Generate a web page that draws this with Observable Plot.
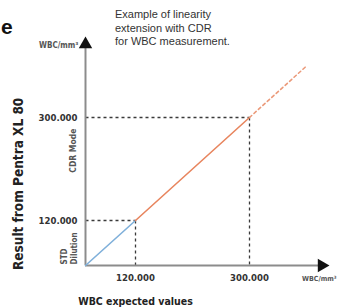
<!DOCTYPE html>
<html>
<head>
<meta charset="utf-8">
<script src="https://cdn.jsdelivr.net/npm/d3@7"></script>
<script src="https://cdn.jsdelivr.net/npm/@observablehq/plot@0.6"></script>
<style>
  html, body { margin: 0; padding: 0; background: #fff; }
  #wrap { position: relative; width: 337px; height: 308px; overflow: hidden; }
  #title { position: absolute; left: 115px; top: 8px; font: 11px "Liberation Sans", Arial, sans-serif; line-height: 13.5px; color: #333; }
  #cut { position: absolute; left: 1px; top: 15px; font: bold 21px "Liberation Sans", Arial, sans-serif; color: #111; }
  svg text { font-family: "DejaVu Sans Condensed", "Liberation Sans Narrow", "Roboto Condensed", sans-serif; font-stretch: condensed; }
  svg text.wide { font-family: "DejaVu Sans", sans-serif; font-stretch: normal; }
</style>
</head>
<body>
<div id="wrap">
  <div id="cut">e</div>
  <div id="title">Example of linearity<br>extension with CDR<br>for WBC measurement.</div>
</div>
<script>
// values (thousands of WBC/mm³)
const limits = [0, 120, 300];          // origin, STD dilution limit, CDR mode limit
const tickValues = [120, 300];
const tickLabels = ["120.000", "300.000"];
const stdX = [0, 120], stdY = [0, 120];
const cdrX = [120, 300], cdrY = [120, 300];
const extX = [300, 390], extY = [300, 390];
const axisEnd = 430;
const unitLabel = "WBC/mm³";
const xTitle = "WBC expected values";
const yTitle = "Result from Pentra XL 80";

// the schematic drawing is not to scale: warp each axis piecewise
const xWarp = d3.scaleLinear(limits, [0, 50, 164]);
const yWarp = d3.scaleLinear(limits, [0, 45, 148]);

const pts = (xs, ys) => xs.map((x, i) => ({x, y: ys[i]}));
const guides = tickValues.flatMap(v => [
  {x1: 0, y1: v, x2: v, y2: v},
  {x1: v, y1: v, x2: v, y2: 0}
]);

const chart = Plot.plot({
  width: 337,
  height: 308,
  marginLeft: 85,
  marginRight: 88,
  marginTop: 117,
  marginBottom: 43,
  style: {background: "transparent", overflow: "visible"},
  x: {type: "linear", transform: xWarp, domain: [0, 164], axis: null},
  y: {type: "linear", transform: yWarp, domain: [0, 148], axis: null},
  marks: [
    // dashed guide lines
    Plot.link(guides, {x1: "x1", y1: "y1", x2: "x2", y2: "y2", stroke: "#3a3a3a", strokeWidth: 1.3, strokeDasharray: "3,3"}),
    // axes lines
    Plot.ruleX([0], {y1: 0, y2: axisEnd - 6, stroke: "#8c8c8c", strokeWidth: 2}),
    Plot.ruleY([0], {x1: 0, x2: axisEnd - 14, stroke: "#8c8c8c", strokeWidth: 2}),
    Plot.dot([{x: 0, y: axisEnd - 2}], {x: "x", y: "y", symbol: "triangle", r: 5, fill: "#111", stroke: "none"}),
    Plot.dot([{x: axisEnd - 16, y: 0}], {x: "x", y: "y", symbol: "triangle", r: 5, fill: "#111", stroke: "none", rotate: 90}),
    // linearity lines
    Plot.line(pts(stdX, stdY), {x: "x", y: "y", stroke: "#7fb0da", strokeWidth: 1.6}),
    Plot.line(pts(cdrX, cdrY), {x: "x", y: "y", stroke: "#e8855e", strokeWidth: 1.6}),
    Plot.line(pts(extX, extY), {x: "x", y: "y", stroke: "#eb9a7a", strokeWidth: 1.6, strokeDasharray: "3,3"}),
    // tick labels
    Plot.axisX(tickValues, {tickSize: 0, tickPadding: 9, tickFormat: (d, i) => tickLabels[i], fontSize: 9.5, fontWeight: "bold", fill: "#333"}),
    Plot.axisY(tickValues, {tickSize: 0, tickPadding: 8, tickFormat: (d, i) => tickLabels[i], fontSize: 9.5, fontWeight: "bold", fill: "#333"}),
    // unit labels
    Plot.text([unitLabel], {x: 0, y: axisEnd, dx: -7, dy: 2, textAnchor: "end", fontSize: 8, fontWeight: "bold", fill: "#555"}),
    Plot.text([unitLabel], {x: 383, y: 0, dy: 13, textAnchor: "start", fontSize: 7, fontWeight: "bold", fill: "#555"}),
    // mode labels
    Plot.text(["CDR Mode"], {x: 0, y: 242, dx: -12, rotate: -90, fontSize: 8.5, fontWeight: "bold", fill: "#555", className: "wide"}),
    Plot.text(["STD"], {x: 0, y: 0, dx: -21, dy: -1, rotate: -90, textAnchor: "start", fontSize: 8, fontWeight: "bold", fill: "#555"}),
    Plot.text(["Dilution"], {x: 0, y: 0, dx: -11, dy: -1, rotate: -90, textAnchor: "start", fontSize: 8, fontWeight: "bold", fill: "#555"}),
    // axis titles
    Plot.text([xTitle], {x: 120, y: 0, dy: 36, fontSize: 10.5, fontWeight: "bold", fill: "#222"}),
    Plot.text([yTitle], {x: 0, y: 184, dx: -67, rotate: -90, fontSize: 13.5, fontWeight: "bold", fill: "#222"})
  ]
});
document.getElementById("wrap").prepend(chart);
chart.style.position = "absolute";
chart.style.left = "0";
chart.style.top = "0";
</script>
</body>
</html>
